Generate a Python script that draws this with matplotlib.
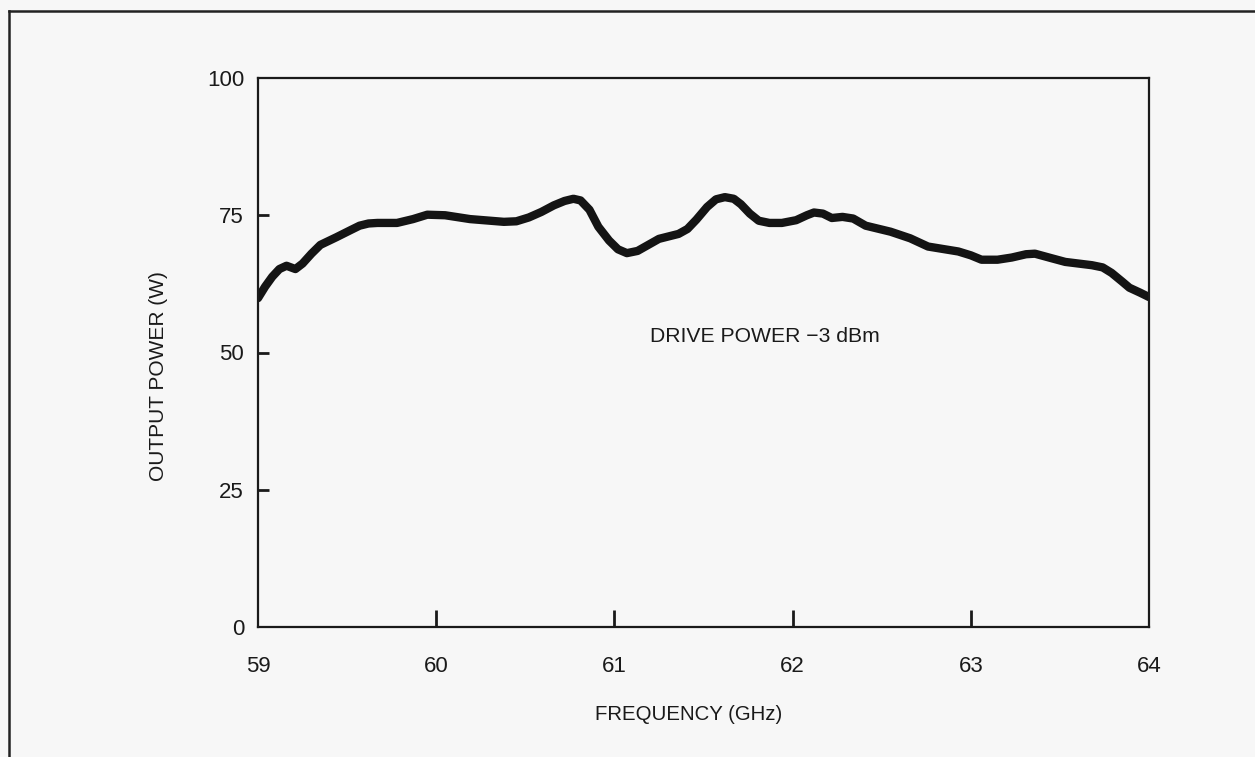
import matplotlib
matplotlib.use("Agg")
import matplotlib.pyplot as plt
from matplotlib.lines import Line2D

plt.rcParams['font.family'] = ['Liberation Sans', 'DejaVu Sans']

# Data
freq_ghz = [59.00, 59.04, 59.08, 59.12, 59.16, 59.21, 59.25, 59.30, 59.35, 59.44,
            59.52, 59.57, 59.62, 59.67, 59.78, 59.87, 59.95, 60.05, 60.19, 60.38,
            60.45, 60.52, 60.59, 60.66, 60.72, 60.77, 60.81, 60.86, 60.91, 60.97,
            61.02, 61.07, 61.13, 61.19, 61.25, 61.36, 61.41, 61.46, 61.52, 61.57,
            61.62, 61.67, 61.71, 61.76, 61.81, 61.87, 61.94, 62.02, 62.08, 62.12,
            62.17, 62.22, 62.28, 62.34, 62.41, 62.55, 62.66, 62.76, 62.93, 63.00,
            63.06, 63.15, 63.23, 63.31, 63.36, 63.45, 63.53, 63.68, 63.74, 63.79,
            63.85, 63.89, 63.95, 64.00]
power_w = [59.9, 62.0, 63.8, 65.2, 65.8, 65.2, 66.2, 68.0, 69.6, 71.0,
           72.3, 73.1, 73.5, 73.6, 73.6, 74.3, 75.1, 75.0, 74.3, 73.8,
           73.9, 74.6, 75.6, 76.8, 77.6, 78.0, 77.7, 76.0, 72.9, 70.4,
           68.8, 68.1, 68.5, 69.6, 70.7, 71.6, 72.5, 74.2, 76.5, 77.9,
           78.3, 78.0, 77.0, 75.3, 74.0, 73.6, 73.6, 74.1, 75.0, 75.5,
           75.3, 74.5, 74.7, 74.4, 73.1, 72.0, 70.8, 69.3, 68.4, 67.7,
           66.9, 66.9, 67.3, 67.9, 68.0, 67.2, 66.5, 65.9, 65.5, 64.5,
           62.9, 61.8, 60.9, 60.1]

x_ticks = [59, 60, 61, 62, 63, 64]
y_ticks = [0, 25, 50, 75, 100]
annotation = "DRIVE POWER \u22123 dBm"

W, H = 1255, 757
fig = plt.figure(figsize=(W / 100, H / 100), dpi=100)
bg = '#f7f7f7'
fig.patch.set_facecolor(bg)

left, right, top, bottom = 258, 1149, 78, 627
ax = fig.add_axes([left / W, 1 - bottom / H, (right - left) / W, (bottom - top) / H])
ax.set_facecolor(bg)

ax.plot(freq_ghz, power_w, color='#141414', lw=6.0, solid_joinstyle='round',
        solid_capstyle='round')

ax.set_xlim(59, 64)
ax.set_ylim(0, 100)
ax.set_xticks(x_ticks)
ax.set_yticks(y_ticks)
ax.set_xticklabels([str(t) for t in x_ticks])
ax.set_yticklabels([str(t) for t in y_ticks])

for s in ax.spines.values():
    s.set_linewidth(1.6)
    s.set_color('#1a1a1a')

ax.tick_params(axis='x', direction='in', length=12, width=2, pad=21,
               labelsize=16, colors='#1a1a1a')
ax.tick_params(axis='y', direction='in', length=8, width=2, pad=10,
               labelsize=16, colors='#1a1a1a')
for i, t in enumerate(ax.xaxis.get_major_ticks()):
    if i in (0, len(x_ticks) - 1):
        t.tick1line.set_visible(False)
    t.tick2line.set_visible(False)
for i, t in enumerate(ax.yaxis.get_major_ticks()):
    if i in (0, len(y_ticks) - 1):
        t.tick1line.set_visible(False)
    t.tick2line.set_visible(False)

ax.set_xlabel("FREQUENCY (GHz)", fontsize=14.7, color='#1a1a1a')
ax.set_ylabel("OUTPUT POWER (W)", fontsize=15, color='#1a1a1a')
ax.xaxis.set_label_coords(0.4837, -0.142)
ax.yaxis.set_label_coords(-0.1015, 0.457)

ax.text(61.2, 53.0, annotation, fontsize=15.2, ha='left', va='center', color='#1a1a1a')

# outer frame of the scanned page
fig.add_artist(Line2D([9 / W, 9 / W], [0, 1 - 11 / H], transform=fig.transFigure,
                      color='#222222', lw=1.8))
fig.add_artist(Line2D([9 / W, 1], [1 - 11 / H, 1 - 11 / H], transform=fig.transFigure,
                      color='#222222', lw=1.8))

fig.savefig("out.png", dpi=100, facecolor=bg)
